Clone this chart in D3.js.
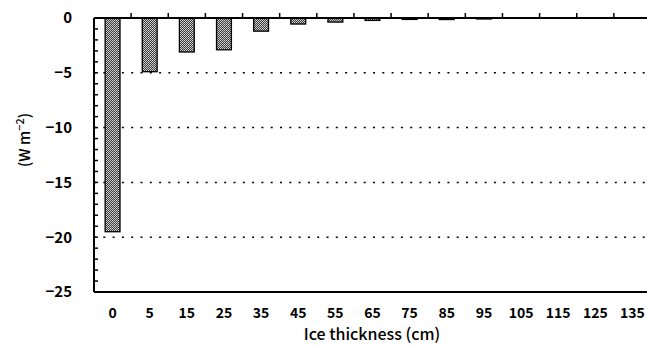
<!DOCTYPE html>
<html>
<head>
<meta charset="utf-8">
<script src="https://cdn.jsdelivr.net/npm/d3@7"></script>
<style>
  body { margin: 0; background: #fff; }
  text { font-family: "Noto Sans CJK JP", "DejaVu Sans", sans-serif; fill: #000; }
</style>
</head>
<body>
<div id="chart"></div>
<script>
// ice thickness categories (cm) and flux values (W m-2)
const categories = ['0', '5', '15', '25', '35', '45', '55', '65', '75', '85', '95', '105', '115', '125', '135'];
const values = [-19.5, -4.9, -3.1, -2.9, -1.2, -0.55, -0.37, -0.22, -0.13, -0.14, -0.09, 0, 0, 0, 0];
const yTicks = [0, -5, -10, -15, -20, -25];
const gridTicks = [-5, -10, -15, -20];

const width = 647, height = 347;
const margin = { top: 18, right: -4, bottom: 55, left: 94 };

const svg = d3.select('#chart')
    .append('svg')
        .attr('width', width)
        .attr('height', height);

// stippled fill for the bars (checker of dark and light pixels)
const defs = svg.append('defs');
const pat = defs.append('pattern')
    .attr('id', 'stipple')
    .attr('width', 2)
    .attr('height', 2)
    .attr('patternUnits', 'userSpaceOnUse');
pat.append('rect').attr('width', 2).attr('height', 2).attr('fill', '#3c3c3c');
pat.append('rect').attr('x', 0).attr('y', 0).attr('width', 1).attr('height', 1).attr('fill', '#d8d8d8');
pat.append('rect').attr('x', 1).attr('y', 1).attr('width', 1).attr('height', 1).attr('fill', '#c0c0c0');

const x = d3.scaleBand()
    .domain(categories)
    .range([margin.left, width - margin.right])
    .paddingInner(0.6)
    .paddingOuter(0.3);

const y = d3.scaleLinear()
    .domain([0, -25])
    .range([margin.top, height - margin.bottom]);

// dotted gridlines
svg.append('g')
    .selectAll('line')
    .data(gridTicks)
    .enter()
    .append('line')
        .attr('x1', margin.left)
        .attr('x2', width)
        .attr('y1', d => y(d))
        .attr('y2', d => y(d))
        .attr('stroke', '#000')
        .attr('stroke-width', 1.5)
        .attr('stroke-dasharray', '2,7.3');

// bars
svg.append('g')
    .selectAll('rect')
    .data(values.map((v, i) => ({ cat: categories[i], v: v })).filter(d => d.v < 0))
    .enter()
    .append('rect')
        .attr('x', d => x(d.cat))
        .attr('y', y(0))
        .attr('width', x.bandwidth())
        .attr('height', d => y(d.v) - y(0))
        .attr('fill', 'url(#stipple)')
        .attr('stroke', '#000')
        .attr('stroke-width', 1.3);

// y axis: minor ticks every unit, pointing inward
const yAxis = svg.append('g');
yAxis.selectAll('line.minor')
    .data(d3.range(0, -26, -1))
    .enter()
    .append('line')
        .attr('class', 'minor')
        .attr('x1', margin.left)
        .attr('x2', margin.left + 4)
        .attr('y1', d => y(d))
        .attr('y2', d => y(d))
        .attr('stroke', '#000')
        .attr('stroke-width', 1.5);

yAxis.append('line')
    .attr('x1', margin.left)
    .attr('x2', margin.left)
    .attr('y1', y(0))
    .attr('y2', y(-25))
    .attr('stroke', '#000')
    .attr('stroke-width', 2);

yAxis.selectAll('text')
    .data(yTicks)
    .enter()
    .append('text')
        .attr('x', 72)
        .attr('y', d => y(d))
        .attr('dy', '0.36em')
        .attr('text-anchor', 'end')
        .style('font-size', '15px')
        .style('font-weight', 'bold')
        .text(d => d === 0 ? '0' : '\u2212' + Math.abs(d));

// zero line with upward ticks between categories
const xTop = svg.append('g');
xTop.append('line')
    .attr('x1', margin.left)
    .attr('x2', width)
    .attr('y1', y(0))
    .attr('y2', y(0))
    .attr('stroke', '#000')
    .attr('stroke-width', 2);

const step = x.step();
xTop.selectAll('line.tick')
    .data(categories.slice(1))
    .enter()
    .append('line')
        .attr('class', 'tick')
        .attr('x1', d => x(d) - step * x.paddingInner() / 2)
        .attr('x2', d => x(d) - step * x.paddingInner() / 2)
        .attr('y1', y(0))
        .attr('y2', y(0) - 5)
        .attr('stroke', '#000')
        .attr('stroke-width', 1.5);

// bottom frame line
svg.append('line')
    .attr('x1', margin.left)
    .attr('x2', width)
    .attr('y1', y(-25))
    .attr('y2', y(-25))
    .attr('stroke', '#000')
    .attr('stroke-width', 2);

// category labels
svg.append('g')
    .selectAll('text')
    .data(categories)
    .enter()
    .append('text')
        .attr('x', d => x(d) + x.bandwidth() / 2)
        .attr('y', 313)
        .attr('dy', '0.36em')
        .attr('text-anchor', 'middle')
        .style('font-size', '14px')
        .style('font-weight', 'bold')
        .text(d => d);

svg.append('text')
    .attr('x', 372)
    .attr('y', 334)
    .attr('dy', '0.36em')
    .attr('text-anchor', 'middle')
    .style('font-size', '16px')
    .style('font-weight', 500)
    .text('Ice thickness (cm)');

const yLabel = svg.append('text')
    .attr('transform', 'translate(30,140) rotate(-90)')
    .attr('text-anchor', 'middle')
    .style('font-size', '15px')
    .style('font-weight', 500);
yLabel.append('tspan').text('(W m');
yLabel.append('tspan').attr('dy', -6).style('font-size', '11px').text('\u22122');
yLabel.append('tspan').attr('dy', 6).text(')');
</script>
</body>
</html>
